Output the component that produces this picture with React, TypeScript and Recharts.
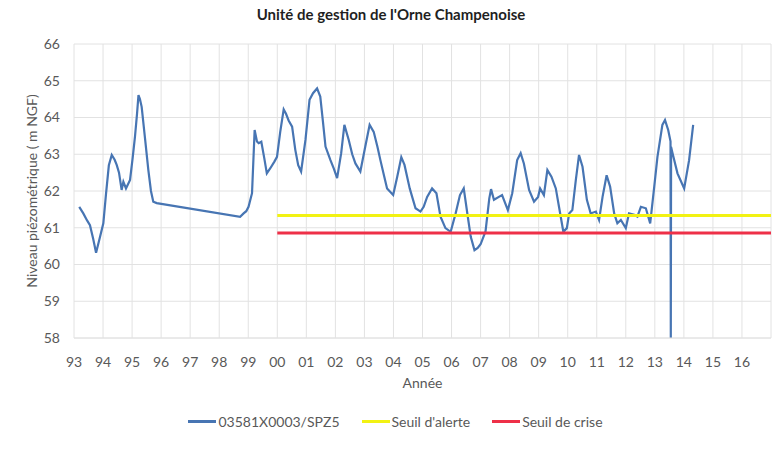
import React from "react";
import {
  CartesianGrid,
  Legend,
  Line,
  LineChart,
  XAxis,
  YAxis,
} from "recharts";

// Piezometer 03581X0003/SPZ5 (decimal year, level in m NGF)
const years = [
  1993.18, 1993.32, 1993.45, 1993.55, 1993.66, 1993.76, 1993.88, 1994.01, 1994.1, 1994.2,
  1994.3, 1994.4, 1994.47, 1994.55, 1994.64, 1994.7, 1994.79, 1994.93, 1995.02, 1995.1,
  1995.17, 1995.22, 1995.27, 1995.33, 1995.45, 1995.56, 1995.65, 1995.73, 1995.85, 1998.72,
  1998.84, 1998.93, 1999.01, 1999.13, 1999.22, 1999.3, 1999.36, 1999.45, 1999.55, 1999.64,
  1999.76, 1999.9, 1999.99, 2000.1, 2000.22, 2000.3, 2000.39, 2000.51, 2000.62, 2000.72,
  2000.82, 2000.97, 2001.11, 2001.23, 2001.37, 2001.48, 2001.57, 2001.66, 2001.83, 2001.95,
  2002.06, 2002.2, 2002.31, 2002.46, 2002.58, 2002.69, 2002.86, 2003.03, 2003.18, 2003.32,
  2003.45, 2003.55, 2003.68, 2003.78, 2003.99, 2004.13, 2004.27, 2004.38, 2004.56, 2004.66,
  2004.76, 2004.93, 2005.04, 2005.16, 2005.33, 2005.48, 2005.62, 2005.79, 2005.97, 2006.14,
  2006.29, 2006.42, 2006.56, 2006.66, 2006.79, 2006.9, 2007.0, 2007.17, 2007.3, 2007.36,
  2007.46, 2007.63, 2007.74, 2007.94, 2008.09, 2008.26, 2008.38, 2008.49, 2008.67, 2008.84,
  2008.98, 2009.05, 2009.18, 2009.3, 2009.44, 2009.59, 2009.7, 2009.85, 2009.97, 2010.05,
  2010.16, 2010.28, 2010.39, 2010.51, 2010.66, 2010.79, 2010.97, 2011.08, 2011.2, 2011.34,
  2011.46, 2011.6, 2011.71, 2011.83, 2012.0, 2012.11, 2012.29, 2012.4, 2012.52, 2012.69,
  2012.84, 2012.98, 2013.09, 2013.26, 2013.35, 2013.46, 2013.54, 2013.55, 2013.56, 2013.61,
  2013.78, 2014.01, 2014.18, 2014.32,
];
const levels = [
  61.57, 61.39, 61.2, 61.07, 60.7, 60.32, 60.7, 61.12, 61.9, 62.7,
  62.98, 62.85, 62.71, 62.5, 62.03, 62.25, 62.07, 62.3, 62.9, 63.48,
  64.1, 64.61, 64.5, 64.29, 63.4, 62.57, 62.0, 61.71, 61.67, 61.3,
  61.39, 61.45, 61.57, 61.94, 63.66, 63.35, 63.3, 63.34, 62.9, 62.48,
  62.62, 62.8, 62.93, 63.6, 64.22, 64.1, 63.92, 63.75, 63.12, 62.7,
  62.53, 63.39, 64.48, 64.66, 64.79, 64.57, 63.9, 63.21, 62.84, 62.6,
  62.35, 63.03, 63.8, 63.39, 63.0, 62.75, 62.53, 63.21, 63.8, 63.61,
  63.2, 62.84, 62.4, 62.07, 61.89, 62.39, 62.92, 62.71, 62.07, 61.8,
  61.53, 61.44, 61.57, 61.84, 62.07, 61.94, 61.3, 60.99, 60.89, 61.39,
  61.89, 62.07, 61.3, 60.76, 60.39, 60.45, 60.55, 60.9, 61.8, 62.05,
  61.76, 61.84, 61.89, 61.48, 61.94, 62.84, 63.03, 62.75, 62.03, 61.71,
  61.84, 62.07, 61.89, 62.57, 62.39, 62.07, 61.57, 60.89, 60.99, 61.39,
  61.48, 62.3, 62.98, 62.66, 61.76, 61.39, 61.44, 61.21, 61.84, 62.43,
  62.12, 61.39, 61.12, 61.21, 60.99, 61.39, 61.35, 61.3, 61.57, 61.53,
  61.12, 62.12, 62.93, 63.8, 63.93, 63.66, 63.35, 58.0, 63.2, 63.03,
  62.48, 62.07, 62.84, 63.8,
];

const alertYears = [2000, 2017];
const alertLevels = [61.33, 61.33];
const crisisYears = [2000, 2017];
const crisisLevels = [60.86, 60.86];

const yearTicks = [
  1993, 1994, 1995, 1996, 1997, 1998, 1999, 2000, 2001, 2002, 2003, 2004,
  2005, 2006, 2007, 2008, 2009, 2010, 2011, 2012, 2013, 2014, 2015, 2016,
];
const levelTicks = [58, 59, 60, 61, 62, 63, 64, 65, 66];

const toRows = (xs: number[], ys: number[]) => xs.map((year, i) => ({ year, value: ys[i] }));

const piezoData = toRows(years, levels);
const alertData = toRows(alertYears, alertLevels);
const crisisData = toRows(crisisYears, crisisLevels);

const textColor = "#595959";
const gridColor = "#e2e2e2";

const renderLegend = (props: any) => {
  const { payload = [] } = props;
  return (
    <div
      style={{
        display: "flex",
        justifyContent: "center",
        alignItems: "center",
        height: 18,
        paddingLeft: 42,
        fontSize: 14,
        color: textColor,
      }}
    >
      {payload.map((entry: any) => (
        <div key={entry.value} style={{ display: "flex", alignItems: "center", marginRight: 22 }}>
          <span
            style={{
              display: "inline-block",
              width: 28,
              height: 3,
              background: entry.color,
              marginRight: 2,
            }}
          />
          <span>{entry.value}</span>
        </div>
      ))}
    </div>
  );
};

export default function App() {
  return (
    <div
      style={{
        position: "absolute",
        left: 0,
        top: 0,
        width: 772,
        height: 450,
        background: "#fff",
        fontFamily: "Lato, sans-serif",
      }}
    >
      <div
        style={{
          position: "absolute",
          top: 4,
          left: 0,
          width: 772,
          paddingLeft: 10,
          boxSizing: "border-box",
          textAlign: "center",
          fontSize: 15,
          fontWeight: 700,
          lineHeight: "20px",
          color: "#1f1f1f",
        }}
      >
        Unité de gestion de l'Orne Champenoise
      </div>
      <LineChart width={772} height={450} margin={{ top: 44, right: 1, left: 0, bottom: 20 }}>
        <CartesianGrid stroke={gridColor} />
        <XAxis
          type="number"
          dataKey="year"
          domain={[1993, 2017]}
          ticks={yearTicks}
          tickFormatter={(y: number) => String(y % 100).padStart(2, "0")}
          axisLine={{ stroke: gridColor }}
          tickLine={false}
          tickMargin={13}
          height={74}
          tick={{ fontSize: 14, fill: textColor }}
          label={{ value: "Année", position: "center", dy: 8, fontSize: 14, fill: textColor }}
        />
        <YAxis
          type="number"
          domain={[58, 66]}
          ticks={levelTicks}
          width={74}
          axisLine={false}
          tickLine={false}
          tickMargin={8}
          tick={{ fontSize: 14, fill: textColor }}
          label={{
            value: "Niveau piézométrique ( m NGF)",
            angle: -90,
            position: "center",
            dx: -5,
            fontSize: 14,
            fill: textColor,
          }}
        />
        <Legend verticalAlign="bottom" content={renderLegend} />
        <Line
          data={piezoData}
          dataKey="value"
          name="03581X0003/SPZ5"
          type="linear"
          stroke="#4775b3"
          strokeWidth={2.2}
          dot={false}
          legendType="plainline"
          isAnimationActive={false}
        />
        <Line
          data={alertData}
          dataKey="value"
          name="Seuil d'alerte"
          type="linear"
          stroke="#f2f213"
          strokeWidth={3}
          dot={false}
          legendType="plainline"
          isAnimationActive={false}
        />
        <Line
          data={crisisData}
          dataKey="value"
          name="Seuil de crise"
          type="linear"
          stroke="#ee3048"
          strokeWidth={3}
          dot={false}
          legendType="plainline"
          isAnimationActive={false}
        />
      </LineChart>
    </div>
  );
}
